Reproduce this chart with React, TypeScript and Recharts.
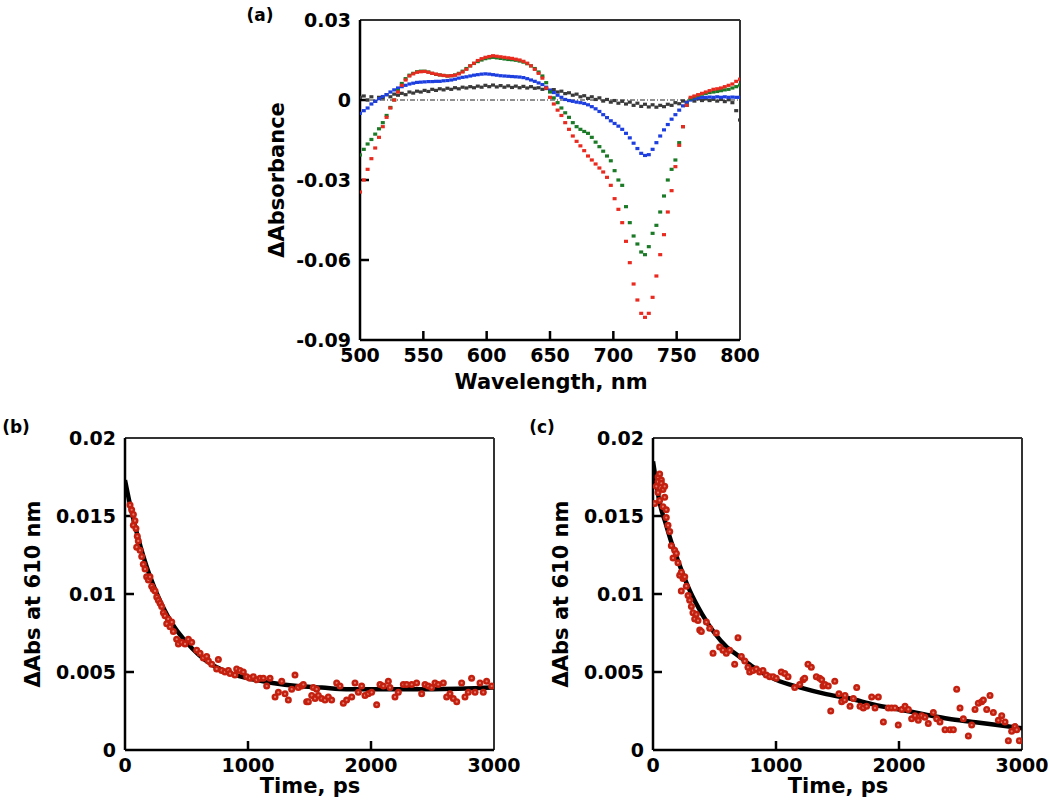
import React from 'react';
import { ScatterChart, ComposedChart, Scatter, Line, XAxis, YAxis, ReferenceLine } from 'recharts';

// (a) transient spectra, sampled every 3 nm from 500 to 800 nm
const wavelengths = Array.from({ length: 101 }, (_, i) => 500 + 3 * i);

const redSpectrum = [
  -0.0345, -0.030, -0.026, -0.022, -0.018, -0.014, -0.010, -0.0065, -0.003, 0.000,
  0.003, 0.0055, 0.0075, 0.009, 0.0098, 0.0104, 0.0106, 0.0107, 0.0104, 0.010,
  0.0097, 0.0094, 0.0092, 0.009, 0.0091, 0.0093, 0.0098, 0.0105, 0.0115, 0.0128,
  0.0138, 0.0148, 0.0155, 0.016, 0.0163, 0.0166, 0.0164, 0.0162, 0.016, 0.0158,
  0.0156, 0.0153, 0.015, 0.0145, 0.0138, 0.0128, 0.0115, 0.010, 0.0082, 0.0045,
  0.001, -0.0015, -0.0038, -0.0058, -0.0085, -0.011, -0.0135, -0.0155, -0.0172, -0.019,
  -0.021, -0.0225, -0.024, -0.0255, -0.027, -0.029, -0.032, -0.037, -0.041, -0.046,
  -0.053, -0.061, -0.069, -0.075, -0.080, -0.0815, -0.080, -0.074, -0.066, -0.058,
  -0.0505, -0.042, -0.034, -0.025, -0.017, -0.010, -0.002, 0.001, 0.0015, 0.002,
  0.0025, 0.003, 0.0035, 0.004, 0.0042, 0.0045, 0.005, 0.0055, 0.006, 0.007,
  0.0078,
];

const greenSpectrum = [
  -0.0206, -0.0185, -0.0165, -0.0148, -0.0128, -0.0108, -0.0085, -0.0058, -0.0028, 0.000,
  0.0035, 0.0062, 0.008, 0.0093, 0.010, 0.0106, 0.0108, 0.0108, 0.0105, 0.010,
  0.0096, 0.0094, 0.0092, 0.009, 0.0091, 0.0094, 0.010, 0.0108, 0.0118, 0.0128,
  0.0137, 0.0144, 0.015, 0.0155, 0.0158, 0.016, 0.0158, 0.0156, 0.0154, 0.0152,
  0.0151, 0.0149, 0.0146, 0.0142, 0.0136, 0.0128, 0.0118, 0.0105, 0.009, 0.0065,
  0.003, 0.0008, -0.001, -0.003, -0.0048, -0.0065, -0.0085, -0.010, -0.011, -0.0118,
  -0.0125, -0.014, -0.0158, -0.0175, -0.0192, -0.021, -0.0228, -0.0265, -0.030, -0.032,
  -0.040, -0.046, -0.051, -0.054, -0.057, -0.058, -0.055, -0.050, -0.047, -0.042,
  -0.036, -0.030, -0.026, -0.0225, -0.016, -0.010, -0.002, 0.0005, 0.0012, 0.0018,
  0.0022, 0.0025, 0.0028, 0.003, 0.0032, 0.0035, 0.0038, 0.004, 0.0045, 0.005,
  0.0056,
];

const blueSpectrum = [
  -0.005, -0.004, -0.003, -0.0015, -0.0005, 0.0005, 0.0013, 0.002, 0.003, 0.0038,
  0.0045, 0.005, 0.0055, 0.006, 0.0063, 0.0066, 0.0067, 0.0068, 0.0069, 0.0069,
  0.007, 0.007, 0.0072, 0.0073, 0.0075, 0.0078, 0.0082, 0.0085, 0.0087, 0.009,
  0.0093, 0.0095, 0.0097, 0.0098, 0.0097, 0.0095, 0.0093, 0.0091, 0.009, 0.0089,
  0.0088, 0.0087, 0.0086, 0.0084, 0.008, 0.0075, 0.007, 0.0064, 0.0058, 0.0048,
  0.0037, 0.0028, 0.0018, 0.001, 0.0002, -0.0002, -0.0005, -0.0008, -0.001, -0.0013,
  -0.0018, -0.0025, -0.0033, -0.0043, -0.0055, -0.0066, -0.0078, -0.0088, -0.0098, -0.011,
  -0.0125, -0.0142, -0.0162, -0.0182, -0.020, -0.0208, -0.0205, -0.0185, -0.016, -0.0135,
  -0.0112, -0.0092, -0.0072, -0.0055, -0.0038, -0.0022, -0.001, 0.000, 0.0005, 0.0008,
  0.001, 0.001, 0.0011, 0.001, 0.0012, 0.001, 0.0012, 0.001, 0.0011, 0.001,
  0.001,
];

const graySpectrum = [
  0.001, 0.0015, 0.000, 0.0012, -0.0005, 0.001, 0.0008, 0.002, 0.0012, 0.0022,
  0.0018, 0.0025, 0.002, 0.003, 0.0026, 0.0033, 0.003, 0.0036, 0.0032, 0.004,
  0.0036, 0.0042, 0.0038, 0.0044, 0.004, 0.0046, 0.0042, 0.0048, 0.0045, 0.005,
  0.0046, 0.0052, 0.0048, 0.0055, 0.005, 0.0056, 0.0049, 0.0054, 0.0048, 0.0053,
  0.0047, 0.0052, 0.0046, 0.0051, 0.0045, 0.005, 0.0044, 0.0046, 0.004, 0.0043,
  0.0036, 0.0039, 0.003, 0.0033, 0.0024, 0.0027, 0.0018, 0.0022, 0.0012, 0.0016,
  0.0006, 0.0012, 0.0002, 0.0008, -0.0004, 0.0002, -0.0008, -0.0002, -0.0012, -0.0005,
  -0.0015, -0.0008, -0.002, -0.0012, -0.0024, -0.0016, -0.0026, -0.0018, -0.0027, -0.002,
  -0.0025, -0.0016, -0.002, -0.001, -0.0014, -0.0004, -0.0008, 0.0002, -0.0004, 0.0004,
  -0.0002, 0.0004, -0.0002, 0.0003, -0.0004, 0.0002, -0.0006, 0.0001, -0.001, -0.004,
  -0.0075,
];

const wavelengthTicks = [500, 550, 600, 650, 700, 750, 800];
const absorbanceTicks = [-0.09, -0.06, -0.03, 0, 0.03];

// (b) decay at 610 nm
const decayBTimes = [
  41, 54, 68, 68, 81, 89, 95, 100, 108, 122, 136, 149, 163, 176, 190, 203, 217, 230, 244, 258,
  271, 285, 298, 312, 325, 339, 352, 366, 380, 393, 420, 434, 461, 488, 515, 542, 583, 610, 637, 664,
  678, 705, 745, 759, 786, 813, 840, 854, 894, 908, 935, 962, 989, 1016, 1043, 1070, 1098, 1125, 1152, 1179,
  1220, 1247, 1274, 1301, 1328, 1355, 1382, 1409, 1436, 1450, 1477, 1491, 1518, 1531, 1545, 1558, 1572, 1599, 1626, 1653,
  1680, 1721, 1748, 1775, 1802, 1843, 1870, 1897, 1924, 1951, 1978, 2005, 2046, 2073, 2100, 2141, 2154, 2195, 2222, 2263,
  2290, 2331, 2371, 2412, 2439, 2466, 2493, 2520, 2547, 2588, 2615, 2642, 2669, 2697, 2737, 2764, 2791, 2818, 2846, 2886,
  2913, 2940, 2981,
];
const decayBValues = [
  0.0157, 0.0154, 0.0151, 0.0144, 0.0147, 0.0142, 0.0130, 0.0137, 0.0134, 0.0128, 0.0124, 0.0119, 0.0116, 0.0111, 0.0109, 0.0111, 0.0105, 0.0103, 0.0102, 0.0098,
  0.0096, 0.0094, 0.0092, 0.0088, 0.0086, 0.0081, 0.0084, 0.0079, 0.0082, 0.0076, 0.0071, 0.0068, 0.0069, 0.0068, 0.0071, 0.0069, 0.0064, 0.0062, 0.0059, 0.0060,
  0.0057, 0.0055, 0.0052, 0.0058, 0.0051, 0.0050, 0.0051, 0.0049, 0.0048, 0.0052, 0.0051, 0.0050, 0.0047, 0.0046, 0.0047, 0.0045, 0.0046, 0.0046, 0.0041, 0.0046,
  0.0034, 0.0037, 0.0044, 0.0036, 0.0032, 0.0039, 0.0048, 0.0040, 0.0041, 0.0042, 0.0031, 0.0031, 0.0035, 0.0040, 0.0033, 0.0039, 0.0035, 0.0033, 0.0032, 0.0034,
  0.0032, 0.0043, 0.0041, 0.0030, 0.0032, 0.0034, 0.0043, 0.0037, 0.0041, 0.0035, 0.0036, 0.0037, 0.0029, 0.0042, 0.0041, 0.0044, 0.0040, 0.0034, 0.0037, 0.0042,
  0.0042, 0.0042, 0.0043, 0.0036, 0.0042, 0.0041, 0.0040, 0.0043, 0.0042, 0.0043, 0.0034, 0.0036, 0.0033, 0.0031, 0.0043, 0.0034, 0.0037, 0.0046, 0.0037, 0.0043,
  0.0037, 0.0044, 0.0041,
];
const fitBTimes = [0, 50, 100, 150, 200, 300, 400, 500, 600, 700, 800, 900, 1000, 1200, 1400, 1600, 1800, 2000, 2500, 3000];
const fitBValues = [0.0173, 0.0154, 0.0138, 0.0124, 0.0112, 0.0093, 0.0079, 0.0069, 0.0061, 0.0055, 0.0051, 0.0048, 0.0046, 0.0043, 0.0041, 0.0040, 0.0039, 0.0039, 0.0039, 0.0040];

// (c) decay at 610 nm
const decayCTimes = [
  14, 27, 41, 41, 41, 54, 54, 68, 68, 81, 81, 95, 95, 108, 108, 122, 136, 149, 163, 176,
  190, 203, 217, 230, 230, 244, 258, 271, 285, 298, 312, 325, 339, 352, 366, 380, 393, 434, 461, 488,
  515, 542, 569, 596, 623, 664, 691, 718, 746, 772, 786, 813, 840, 867, 894, 921, 949, 976, 1002, 1043,
  1071, 1098, 1152, 1193, 1220, 1233, 1260, 1287, 1328, 1355, 1371, 1382, 1398, 1425, 1445, 1478, 1512, 1534, 1558, 1561,
  1602, 1629, 1656, 1683, 1710, 1737, 1778, 1805, 1832, 1873, 1913, 1940, 1967, 1994, 2022, 2049, 2076, 2103, 2130, 2157,
  2184, 2211, 2238, 2279, 2306, 2333, 2374, 2415, 2442, 2469, 2496, 2523, 2564, 2591, 2618, 2645, 2672, 2686, 2713, 2740,
  2767, 2808, 2835, 2862, 2889, 2916, 2943, 2957, 2978,
];
const decayCValues = [
  0.0158, 0.0169, 0.0175, 0.0165, 0.0172, 0.0177, 0.0160, 0.0173, 0.0171, 0.0167, 0.0156, 0.0162, 0.0169, 0.0154, 0.0149, 0.0144, 0.0140, 0.0131, 0.0123, 0.0128,
  0.0126, 0.0120, 0.0112, 0.0114, 0.0102, 0.0110, 0.0111, 0.0105, 0.0099, 0.0096, 0.0092, 0.0088, 0.0084, 0.0087, 0.0083, 0.0077, 0.0076, 0.0082, 0.0078, 0.0062,
  0.0075, 0.0066, 0.0064, 0.0062, 0.0064, 0.0055, 0.0072, 0.0060, 0.0057, 0.0053, 0.0050, 0.0051, 0.0052, 0.0050, 0.0051, 0.0048, 0.0047, 0.0047, 0.0046, 0.0050,
  0.0049, 0.0047, 0.0040, 0.0042, 0.0045, 0.0046, 0.0055, 0.0053, 0.0047, 0.0046, 0.0045, 0.0041, 0.0042, 0.0041, 0.0025, 0.0044, 0.0036, 0.0031, 0.0032, 0.0035,
  0.0028, 0.0033, 0.0040, 0.0028, 0.0027, 0.0028, 0.0034, 0.0027, 0.0034, 0.0018, 0.0027, 0.0027, 0.0027, 0.0016, 0.0026, 0.0028, 0.0026, 0.0020, 0.0022, 0.0019,
  0.0022, 0.0021, 0.0017, 0.0024, 0.0020, 0.0018, 0.0013, 0.0013, 0.0013, 0.0039, 0.0027, 0.0020, 0.0009, 0.0016, 0.0026, 0.0030, 0.0031, 0.0032, 0.0026, 0.0035,
  0.0024, 0.0019, 0.0022, 0.0018, 0.0006, 0.0012, 0.0015, 0.0013, 0.0006,
];
const fitCTimes = [0, 25, 50, 100, 150, 200, 300, 400, 500, 600, 700, 800, 900, 1000, 1200, 1400, 1600, 1800, 2000, 2200, 2400, 2600, 2800, 3000];
const fitCValues = [0.0185, 0.0172, 0.0160, 0.0146, 0.0133, 0.0122, 0.0102, 0.0087, 0.0075, 0.0066, 0.0060, 0.0054, 0.0049, 0.0045, 0.0040, 0.0036, 0.0033, 0.0029, 0.0026, 0.0023, 0.0020, 0.0018, 0.0016, 0.0014];

const timeTicks = [0, 1000, 2000, 3000];
const decayTicks = [0, 0.005, 0.01, 0.015, 0.02];

const FONT = '"DejaVu Sans", "Liberation Sans", sans-serif';
const labelFont = { fontFamily: FONT, fontWeight: 700, fontSize: 19, fill: '#000' };
const mainAxis = { stroke: '#000', strokeWidth: 2.5 };
const frameColor = '#333';
const GAP = 8;
const TICK_PX = 9;

const bottomLabel = (p: any) => (
  <text x={p.x} y={p.y} dy={14} textAnchor="middle" style={labelFont}>{String(p.payload.value)}</text>
);
const leftLabel = (p: any) => (
  <text x={p.x - 1} y={p.y} dy={7} textAnchor="end" style={labelFont}>{String(p.payload.value)}</text>
);

const spectrum = (values: number[]) => wavelengths.map((x, i) => ({ x, y: values[i] }));
const pairs = (ts: number[], vs: number[]) => ts.map((t, i) => ({ t, v: vs[i] }));
const inner = (ticks: number[]) => ticks.slice(1, -1);

const square = (color: string) => (p: any) => (
  <rect x={p.cx - 2} y={p.cy - 1.6} width={4} height={3.2} fill={color} />
);

const redDot = (p: any) => (
  <g>
    <circle cx={p.cx} cy={p.cy} r={3.5} fill="#c4200f" />
    <circle cx={p.cx} cy={p.cy} r={1.1} fill="#e2786a" />
  </g>
);

// tick length expressed in data units of each plot
const A_X = [500, 800];
const A_Y = [-0.09, 0.03];
const A_TX = TICK_PX * (A_X[1] - A_X[0]) / 380;
const A_TY = TICK_PX * (A_Y[1] - A_Y[0]) / 320;
const D_X = [0, 3000];
const D_Y = [0, 0.02];
const D_TX = TICK_PX * (D_X[1] - D_X[0]) / 369;
const D_TY = TICK_PX * (D_Y[1] - D_Y[0]) / 312;

function SpectraChart() {
  return (
    <ScatterChart width={520} height={400} margin={{ top: 20, right: 20, left: 60, bottom: 0 }}>
      <XAxis type="number" dataKey="x" domain={A_X} ticks={wavelengthTicks} interval={0}
        allowDataOverflow tick={bottomLabel} tickSize={0} tickMargin={GAP}
        axisLine={mainAxis} tickLine={false} height={60} />
      <YAxis type="number" dataKey="y" domain={A_Y} ticks={absorbanceTicks} interval={0}
        allowDataOverflow tick={leftLabel} tickSize={0} tickMargin={GAP}
        axisLine={mainAxis} tickLine={false} width={60} />
      <ReferenceLine y={0} stroke="#222" strokeWidth={1} strokeDasharray="5 2 1 2" />
      <ReferenceLine x={A_X[1]} stroke={frameColor} strokeWidth={2} />
      <ReferenceLine y={A_Y[1]} stroke={frameColor} strokeWidth={2} />
      {inner(wavelengthTicks).map((w) => (
        <ReferenceLine key={`ax${w}`} segment={[{ x: w, y: A_Y[0] }, { x: w, y: A_Y[0] + A_TY }]}
          stroke="#000" strokeWidth={2.5} ifOverflow="visible" />
      ))}
      {inner(absorbanceTicks).map((v) => (
        <ReferenceLine key={`ay${v}`} segment={[{ x: A_X[0], y: v }, { x: A_X[0] + A_TX, y: v }]}
          stroke="#000" strokeWidth={2.5} ifOverflow="visible" />
      ))}
      <Scatter data={spectrum(graySpectrum)} shape={square('#3a3a3a')} isAnimationActive={false} />
      <Scatter data={spectrum(blueSpectrum)} shape={square('#1d3fe0')} isAnimationActive={false} />
      <Scatter data={spectrum(greenSpectrum)} shape={square('#1b7a26')} isAnimationActive={false} />
      <Scatter data={spectrum(redSpectrum)} shape={square('#ea2a1e')} isAnimationActive={false} />
    </ScatterChart>
  );
}

function DecayChart({ points, fit }: { points: { t: number; v: number }[]; fit: { t: number; v: number }[] }) {
  return (
    <ComposedChart width={520} height={411} margin={{ top: 38, right: 26, left: 65, bottom: 21 }}>
      <XAxis type="number" dataKey="t" domain={D_X} ticks={timeTicks} interval={0}
        allowDataOverflow tick={bottomLabel} tickSize={0} tickMargin={GAP}
        axisLine={mainAxis} tickLine={false} height={40} />
      <YAxis type="number" dataKey="v" domain={D_Y} ticks={decayTicks} interval={0}
        allowDataOverflow tick={leftLabel} tickSize={0} tickMargin={GAP}
        axisLine={mainAxis} tickLine={false} width={60} />
      <ReferenceLine x={D_X[1]} stroke={frameColor} strokeWidth={2} />
      <ReferenceLine y={D_Y[1]} stroke={frameColor} strokeWidth={2} />
      {inner(timeTicks).map((t) => (
        <ReferenceLine key={`dx${t}`} segment={[{ x: t, y: D_Y[0] }, { x: t, y: D_Y[0] + D_TY }]}
          stroke="#000" strokeWidth={2.5} ifOverflow="visible" />
      ))}
      {inner(decayTicks).map((v) => (
        <ReferenceLine key={`dy${v}`} segment={[{ x: D_X[0], y: v }, { x: D_X[0] + D_TX, y: v }]}
          stroke="#000" strokeWidth={2.5} ifOverflow="visible" />
      ))}
      <Scatter data={points} dataKey="v" shape={redDot} isAnimationActive={false} />
      <Line data={fit} dataKey="v" type="monotone" stroke="#000" strokeWidth={4.5} dot={false}
        isAnimationActive={false} />
    </ComposedChart>
  );
}

function Caption({ x, y, text, size = 21, vertical = false }: { x: number; y: number; text: string; size?: number; vertical?: boolean }) {
  return (
    <div style={{
      position: 'absolute', left: x, top: y, whiteSpace: 'nowrap', lineHeight: 1,
      transform: vertical ? 'translate(-50%, -50%) rotate(-90deg)' : 'translate(-50%, -50%)',
      fontFamily: FONT, fontWeight: 700, fontSize: size, color: '#000',
    }}>{text}</div>
  );
}

export default function App() {
  return (
    <div style={{ position: 'absolute', left: 0, top: 0, width: 1050, height: 811, background: '#fff', overflow: 'hidden' }}>
      <div style={{ position: 'absolute', left: 240, top: 0 }}>
        <SpectraChart />
      </div>
      <div style={{ position: 'absolute', left: 0, top: 400 }}>
        <DecayChart points={pairs(decayBTimes, decayBValues)} fit={pairs(fitBTimes, fitBValues)} />
      </div>
      <div style={{ position: 'absolute', left: 528, top: 400 }}>
        <DecayChart points={pairs(decayCTimes, decayCValues)} fit={pairs(fitCTimes, fitCValues)} />
      </div>
      <Caption x={260} y={15} text="(a)" size={17} />
      <Caption x={277} y={180} text="ΔAbsorbance" vertical />
      <Caption x={551} y={382} text="Wavelength, nm" />
      <Caption x={16} y={427} text="(b)" size={17} />
      <Caption x={33} y={594} text="ΔAbs at 610 nm" vertical />
      <Caption x={310} y={786} text="Time, ps" />
      <Caption x={542} y={427} text="(c)" size={17} />
      <Caption x={561} y={594} text="ΔAbs at 610 nm" vertical />
      <Caption x={838} y={786} text="Time, ps" />
    </div>
  );
}
